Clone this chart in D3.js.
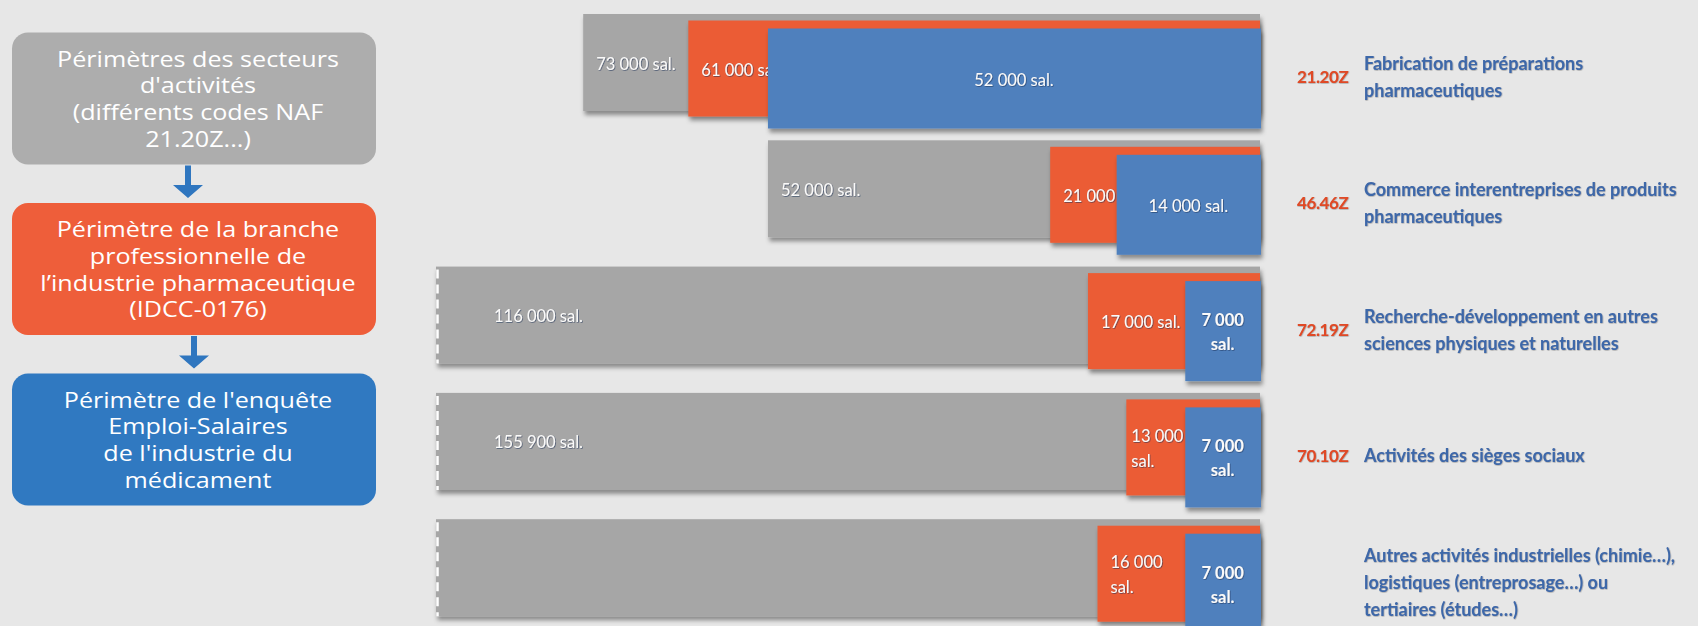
<!DOCTYPE html>
<html lang="fr">
<head>
<meta charset="utf-8">
<script src="https://cdn.jsdelivr.net/npm/d3@7"></script>
<style>
  html, body { margin: 0; padding: 0; background: #e7e7e7; }
  svg { display: block; }
</style>
</head>
<body>
<div id="chart"></div>
<script>
// --- données ---
const rows = [0, 1, 2, 3, 4]
const nafCodes = ['21.20Z', '46.46Z', '72.19Z', '70.10Z', '']
const nafLabels = [
  ['Fabrication de préparations', 'pharmaceutiques'],
  ['Commerce interentreprises de produits', 'pharmaceutiques'],
  ['Recherche-développement en autres', 'sciences physiques et naturelles'],
  ['Activités des sièges sociaux'],
  ['Autres activités industrielles (chimie…),', 'logistiques (entreprosage…) ou', 'tertiaires (études…)']
]
// secteurs (gris), branche (orange), enquête (bleu) — null = non indiqué
const secteurValues = [73000, 52000, 116000, 155900, null]
const brancheValues = [61000, 21000, 17000, 13000, 16000]
const enqueteValues = [52000, 14000, 7000, 7000, 7000]
// libellés tels qu'affichés (retours à la ligne compris)
const secteurLabels = ['73 000 sal.', '52 000 sal.', '116 000 sal.', '155 900 sal.', '']
const brancheLabels = ['61 000 sal.', '21 000 sal.', '17 000 sal.', '13 000\nsal.', '16 000\nsal.']
const enqueteLabels = ['52 000 sal.', '14 000 sal.', '7 000\nsal.', '7 000\nsal.', '7 000\nsal.']

const legendBoxes = [
  ['Périmètres des secteurs', "d'activités", '(différents codes NAF', '21.20Z...)'],
  ['Périmètre de la branche', 'professionnelle de', 'l’industrie pharmaceutique', '(IDCC-0176)'],
  ["Périmètre de l'enquête", 'Emploi-Salaires', "de l'industrie du", 'médicament']
]

const W = 1698, H = 626
const GREY = '#a6a6a6', ORANGE = '#eb5c36', BLUE = '#4f80bd'
const BOX_COLORS = ['#adadad', '#ee5e3a', '#3079c1']
const FONT = 'Lato, "Open Sans", sans-serif'

const svg = d3.select('#chart').append('svg')
  .attr('width', W).attr('height', H)
  .attr('viewBox', `0 0 ${W} ${H}`)

svg.append('rect').attr('width', W).attr('height', H).attr('fill', '#e7e7e7')

const defs = svg.append('defs')
defs.append('filter').attr('id', 'shadow')
  .attr('x', '-5%').attr('y', '-10%').attr('width', '115%').attr('height', '130%')
  .append('feDropShadow')
  .attr('dx', 1.5).attr('dy', 4).attr('stdDeviation', 2.2)
  .attr('flood-color', '#000').attr('flood-opacity', 0.4)
defs.append('filter').attr('id', 'txt')
  .append('feDropShadow')
  .attr('dx', 0.7).attr('dy', 0.7).attr('stdDeviation', 0.5)
  .attr('flood-color', '#1c2d55').attr('flood-opacity', 0.7)
defs.append('filter').attr('id', 'txt2')
  .append('feDropShadow')
  .attr('dx', 0.5).attr('dy', 0.5).attr('stdDeviation', 0.4)
  .attr('flood-color', '#222').attr('flood-opacity', 0.45)

// --- échelles ---
const RIGHT = 1260
const MAX_W = 824 // au-delà : barre coupée (bord pointillé)
const x = d3.scalePow().exponent(0.94)
  .domain([0, 90000])
  .range([0, MAX_W])
  .clamp(true)

const y = d3.scaleBand()
  .domain(rows)
  .range([15, 15 + rows.length * 126.3])

const layers = [
  { values: secteurValues, labels: secteurLabels, color: GREY, dy: -1, h: 97 },
  { values: brancheValues, labels: brancheLabels, color: ORANGE, dy: 5.5, h: 96 },
  { values: enqueteValues, labels: enqueteLabels, color: BLUE, dy: 13.5, h: 100 }
]

function multiline(sel, text, lineH) {
  const lines = text.split('\n')
  lines.forEach((l, i) => {
    sel.append('tspan')
      .attr('x', sel.attr('x'))
      .attr('dy', i === 0 ? -(lines.length - 1) * lineH / 2 : lineH)
      .text(l)
  })
}

// --- barres ---
rows.forEach(r => {
  const g = svg.append('g').attr('class', `row row-${r}`)
  layers.forEach((L, li) => {
    const v = L.values[r]
    const broken = v === null || v > x.domain()[1]
    const w = v === null ? MAX_W : x(v)
    const top = y(r) + L.dy
    g.append('rect')
      .attr('class', `bar bar-${li}`)
      .attr('x', RIGHT - w).attr('y', top)
      .attr('width', w + (li === 2 ? 1 : 0)).attr('height', L.h)
      .attr('fill', L.color)
      .attr('filter', 'url(#shadow)')
    if (broken) {
      g.append('line')
        .attr('x1', RIGHT - w + 1.5).attr('x2', RIGHT - w + 1.5)
        .attr('y1', top + 3).attr('y2', top + L.h)
        .attr('stroke', '#fff').attr('stroke-width', 2.5)
        .attr('stroke-dasharray', '9 6')
    }
  })
})

// libellés dans les barres ; le texte orange passe sous la barre bleue
rows.forEach(r => {
  const g = svg.select(`.row-${r}`)
  const blueLeft = RIGHT - x(enqueteValues[r])
  layers.forEach((L, li) => {
    const text = L.labels[r]
    if (!text) return
    const v = L.values[r]
    const w = v === null ? MAX_W : x(v)
    const broken = v === null || v > x.domain()[1]
    const wrapped = text.includes('\n')
    const left = RIGHT - w
    const cy = y(r) + L.dy + L.h / 2 + 1
    const t = g.append('text')
      .attr('class', `lbl lbl-${li}`)
      .attr('y', cy)
      .attr('dominant-baseline', 'central')
      .attr('font-family', FONT)
      .attr('font-size', 16.5)
      .attr('fill', '#fafafa')
      .attr('filter', 'url(#txt)')
    if (li === 2) {
      t.attr('x', left + w / 2).attr('text-anchor', 'middle')
        .attr('font-weight', wrapped ? 'bold' : 'normal')
      multiline(t, text, 24)
    } else {
      t.attr('x', left + (broken ? 58 : 13))
      multiline(t, text, 25)
      // texte sur deux lignes : on le garde visible à gauche de la barre bleue
      if (wrapped && li === 1) {
        const tw = d3.max(t.selectAll('tspan').nodes(), n => n.getComputedTextLength())
        const tx = Math.max(left + 5, Math.min(left + 13, blueLeft - 4 - tw))
        t.attr('x', tx).selectAll('tspan').attr('x', tx)
      }
    }
  })
  g.select('.bar-2').raise()
  g.select('.lbl-2').raise()
})

// --- codes NAF et intitulés à droite ---
rows.forEach(r => {
  const L = layers[2]
  const cy = y(r) + L.dy + L.h / 2 - 2
  const lines = nafLabels[r]
  const lh = 27
  if (nafCodes[r]) {
    svg.append('text')
      .attr('x', 1297).attr('y', cy)
      .attr('dominant-baseline', 'central')
      .attr('font-family', FONT).attr('font-weight', 'bold')
      .attr('font-size', 17).attr('letter-spacing', -0.4)
      .attr('fill', '#e04a25')
      .attr('filter', 'url(#txt2)')
      .text(nafCodes[r])
  }
  const t = svg.append('text')
    .attr('x', 1364).attr('y', cy)
    .attr('dominant-baseline', 'central')
    .attr('font-family', FONT).attr('font-weight', 'bold')
    .attr('font-size', 18)
    .attr('fill', '#3e67a9')
    .attr('filter', 'url(#txt2)')
  lines.forEach((l, i) => {
    t.append('tspan').attr('x', 1364)
      .attr('dy', i === 0 ? -(lines.length - 1) * lh / 2 : lh)
      .text(l)
  })
})

// --- schéma des périmètres (à gauche) ---
const boxX = 12, boxW = 364, boxH = 132, boxStep = 170.5, boxTop = 32.5
legendBoxes.forEach((lines, i) => {
  const top = boxTop + i * boxStep
  const cx = boxX + boxW / 2 + 4
  svg.append('rect')
    .attr('x', boxX).attr('y', top)
    .attr('width', boxW).attr('height', boxH)
    .attr('rx', 16).attr('ry', 16)
    .attr('fill', BOX_COLORS[i])
  const t = svg.append('text')
    .attr('x', cx).attr('y', top + boxH / 2)
    .attr('text-anchor', 'middle')
    .attr('dominant-baseline', 'central')
    .attr('font-family', '"Open Sans", "Noto Sans", sans-serif')
    .attr('font-size', 21.5)
    .attr('fill', '#fff')
    .attr('transform', `translate(${cx},0) scale(1.17,1) translate(${-cx},0)`)
  lines.forEach((l, j) => {
    t.append('tspan').attr('x', cx)
      .attr('dy', j === 0 ? -(lines.length - 1) * 26.6 / 2 : 26.6)
      .text(l)
  })
  if (i < legendBoxes.length - 1) {
    const ax = boxX + boxW / 2 - 6 + i * 6
    const a0 = top + boxH + 1, a1 = top + boxStep - 5
    svg.append('path')
      .attr('d', `M${ax - 3},${a0} H${ax + 3} V${a1 - 13} H${ax + 15} L${ax},${a1} L${ax - 15},${a1 - 13} H${ax - 3} Z`)
      .attr('fill', '#2f76bf')
  }
})
</script>
</body>
</html>
